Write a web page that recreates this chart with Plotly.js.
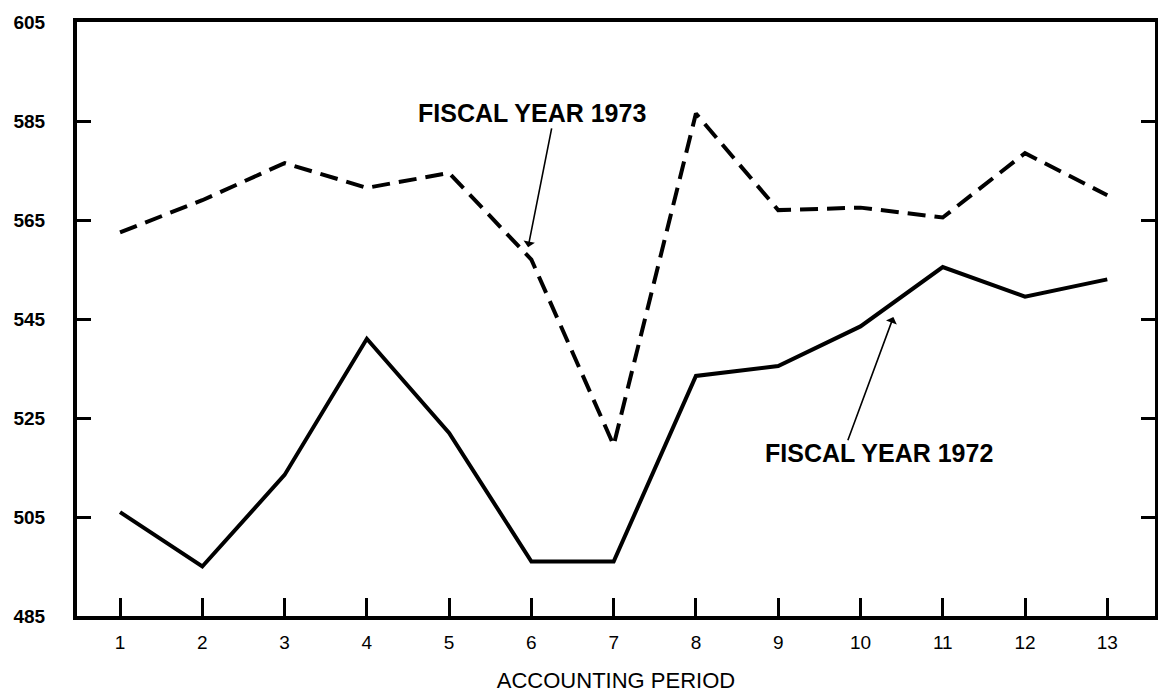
<!DOCTYPE html>
<html>
<head>
<meta charset="utf-8">
<script src="https://cdn.plot.ly/plotly-3.0.1.min.js"></script>
<style>
  html, body { margin: 0; padding: 0; background: #fff; }
  #chart { width: 1158px; height: 698px; }
</style>
</head>
<body>
<div id="chart"></div>
<script>
// Data
const periods = [1, 2, 3, 4, 5, 6, 7, 8, 9, 10, 11, 12, 13];
const fy1972 = [506, 495, 513.5, 541, 522, 496, 496, 533.5, 535.5, 543.5, 555.5, 549.5, 553];
const fy1973 = [562.5, 569, 576.5, 571.5, 574.5, 557, 519.5, 586.5, 567, 567.5, 565.5, 578.5, 570];
const yTicks = [485, 505, 525, 545, 565, 585, 605];
const xTickLabels = periods.map(String);

const traces = [
  {
    x: periods, y: fy1972, type: 'scatter', mode: 'lines', name: 'FISCAL YEAR 1972',
    line: { color: '#000', width: 4, shape: 'linear' }
  },
  {
    x: periods, y: fy1973, type: 'scatter', mode: 'lines', name: 'FISCAL YEAR 1973',
    line: { color: '#000', width: 4, dash: '18px,9px' }
  }
];

const labelFont = { family: 'Liberation Sans, Arial, sans-serif', size: 25, color: '#000', weight: 700 };

const layout = {
  width: 1158, height: 698,
  margin: { l: 77, r: 3, t: 22, b: 82 },
  paper_bgcolor: '#fff', plot_bgcolor: '#fff',
  showlegend: false,
  xaxis: {
    range: [0.477, 13.58],
    tickvals: periods, ticktext: xTickLabels,
    ticks: 'inside', ticklen: 18, tickwidth: 3, tickcolor: '#000',
    showline: true, linewidth: 4, linecolor: '#000', mirror: true,
    showgrid: false, zeroline: false,
    tickfont: { family: 'Liberation Sans, Arial, sans-serif', size: 19, color: '#000' },
    ticklabelstandoff: 6,
    title: { text: 'ACCOUNTING PERIOD', standoff: 22,
      font: { family: 'Liberation Sans, Arial, sans-serif', size: 22, color: '#000' } }
  },
  yaxis: {
    range: [485, 605],
    tickvals: yTicks,
    ticks: 'inside', ticklen: 14, tickwidth: 3, tickcolor: '#000',
    showline: true, linewidth: 4, linecolor: '#000', mirror: 'ticks',
    showgrid: false, zeroline: false,
    tickfont: { family: 'Liberation Sans, Arial, sans-serif', size: 19, color: '#000', weight: 700 },
    ticklabelstandoff: 24
  },
  annotations: [
    { x: 6.01, y: 586.6, xref: 'x', yref: 'y', text: 'FISCAL YEAR 1973', showarrow: false, font: labelFont },
    { x: 5.96, y: 559.5, xref: 'x', yref: 'y', ax: 6.25, ay: 583.8, axref: 'x', ayref: 'y', text: '',
      showarrow: true, arrowhead: 1, arrowsize: 1.2, arrowwidth: 1.6, arrowcolor: '#000' },
    { x: 10.22, y: 517.9, xref: 'x', yref: 'y', text: 'FISCAL YEAR 1972', showarrow: false, font: labelFont },
    { x: 10.40, y: 545.4, xref: 'x', yref: 'y', ax: 9.84, ay: 520.2, axref: 'x', ayref: 'y', text: '',
      showarrow: true, arrowhead: 1, arrowsize: 1.2, arrowwidth: 1.6, arrowcolor: '#000' }
  ]
};

Plotly.newPlot('chart', traces, layout, { displayModeBar: false, staticPlot: true });
</script>
</body>
</html>
